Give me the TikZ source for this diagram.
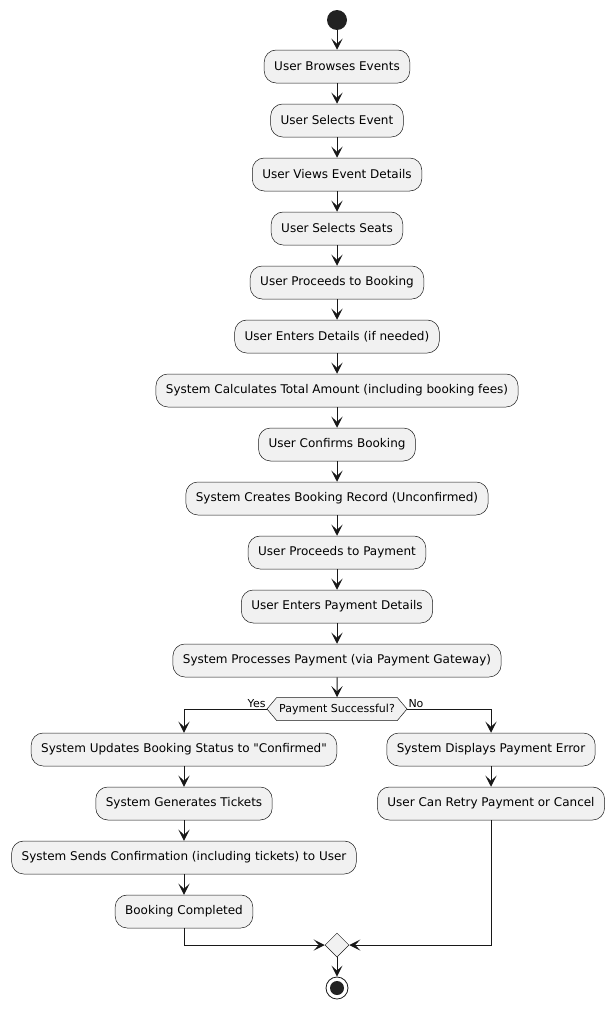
\documentclass[tikz,border=0pt]{standalone}
\usepackage{fontspec}
\setmainfont{DejaVu Sans}
\definecolor{UmlLine}{RGB}{24,24,24}
\definecolor{UmlFill}{RGB}{241,241,241}
\definecolor{UmlDot}{RGB}{34,34,34}
\usetikzlibrary{arrows.meta, shapes.geometric, shapes.symbols, positioning, calc}

\begin{document}
\begin{tikzpicture}[x=1pt, y=-1pt, font=\fontsize{12}{14}\selectfont,
	act/.style={rectangle, rounded corners=12pt, draw=UmlLine, line width=0.5pt, fill=UmlFill, minimum height=33pt, inner xsep=10pt, inner ysep=0pt},
	dec/.style={signal, signal to=west and east, signal pointer angle=100, draw=UmlLine, line width=0.5pt, fill=UmlFill, minimum height=23pt, inner xsep=2.5pt, inner ysep=0pt, font=\fontsize{11}{13}\selectfont},
	mrg/.style={diamond, draw=UmlLine, line width=0.5pt, fill=UmlFill, minimum width=24pt, minimum height=24pt, inner sep=0pt},
	startdot/.style={circle, fill=UmlDot, minimum size=20pt, inner sep=0pt},
	enddot/.style={circle, draw=UmlLine, line width=0.8pt, fill=white, minimum size=22pt, inner sep=0pt,
		path picture={\fill[UmlDot] (path picture bounding box.center) circle (7pt);}},
	lbl/.style={font=\fontsize{11}{13}\selectfont, inner sep=1pt},
	fl/.style={-{Stealth[length=11pt, width=11pt, inset=5pt]}, line width=1pt, UmlLine}]

	\useasboundingbox (0,0) rectangle (614,1009);

	\node[startdot] (start) at (337,20) {};
	\node[act] (browse)  at (337,66.5) {User Browses Events};
	\node[act] (selev)   at (337,120.5) {User Selects Event};
	\node[act] (views)   at (337,174.5) {User Views Event Details};
	\node[act] (seats)   at (337,228.5) {User Selects Seats};
	\node[act] (tobook)  at (337,282.5) {User Proceeds to Booking};
	\node[act] (details) at (337,336.5) {User Enters Details (if needed)};
	\node[act] (total)   at (337,390.5) {System Calculates Total Amount (including booking fees)};
	\node[act] (confirm) at (337,444.5) {User Confirms Booking};
	\node[act] (record)  at (337,498.5) {System Creates Booking Record (Unconfirmed)};
	\node[act] (topay)   at (337,552.5) {User Proceeds to Payment};
	\node[act] (paydet)  at (337,606.5) {User Enters Payment Details};
	\node[act] (process) at (337,660.5) {System Processes Payment (via Payment Gateway)};
	\node[dec] (ok)      at (337,709) {Payment Successful?};

	\node[act] (status)  at (184,749.5) {System Updates Booking Status to \textquotedbl Confirmed\textquotedbl};
	\node[act] (tickets) at (184,803.5) {System Generates Tickets};
	\node[act] (sends)   at (184,857.5) {System Sends Confirmation (including tickets) to User};
	\node[act] (done)    at (184,911.5) {Booking Completed};

	\node[act] (error)   at (491,749.5) {System Displays Payment Error};
	\node[act] (retry)   at (491,803.5) {User Can Retry Payment or Cancel};

	\node[mrg] (merge)   at (337,945) {};
	\node[enddot] (stop) at (337,988) {};

	\node[lbl, anchor=south east] (yes) at (ok.west) {Yes};
	\node[lbl, anchor=south west] (no)  at (ok.east) {No};

	\draw[fl] (start)--(browse); \draw[fl] (browse)--(selev);
	\draw[fl] (selev)--(views); \draw[fl] (views)--(seats);
	\draw[fl] (seats)--(tobook); \draw[fl] (tobook)--(details);
	\draw[fl] (details)--(total); \draw[fl] (total)--(confirm);
	\draw[fl] (confirm)--(record); \draw[fl] (record)--(topay);
	\draw[fl] (topay)--(paydet); \draw[fl] (paydet)--(process);
	\draw[fl] (process)--(ok);

	\draw[fl] (ok.west) -| (status); \draw[fl] (ok.east) -| (error);
	\draw[fl] (status)--(tickets); \draw[fl] (tickets)--(sends);
	\draw[fl] (sends)--(done); \draw[fl] (error)--(retry);

	\draw[fl] (done) |- (merge); \draw[fl] (retry) |- (merge);
	\draw[fl] (merge)--(stop);
\end{tikzpicture}
\end{document}
